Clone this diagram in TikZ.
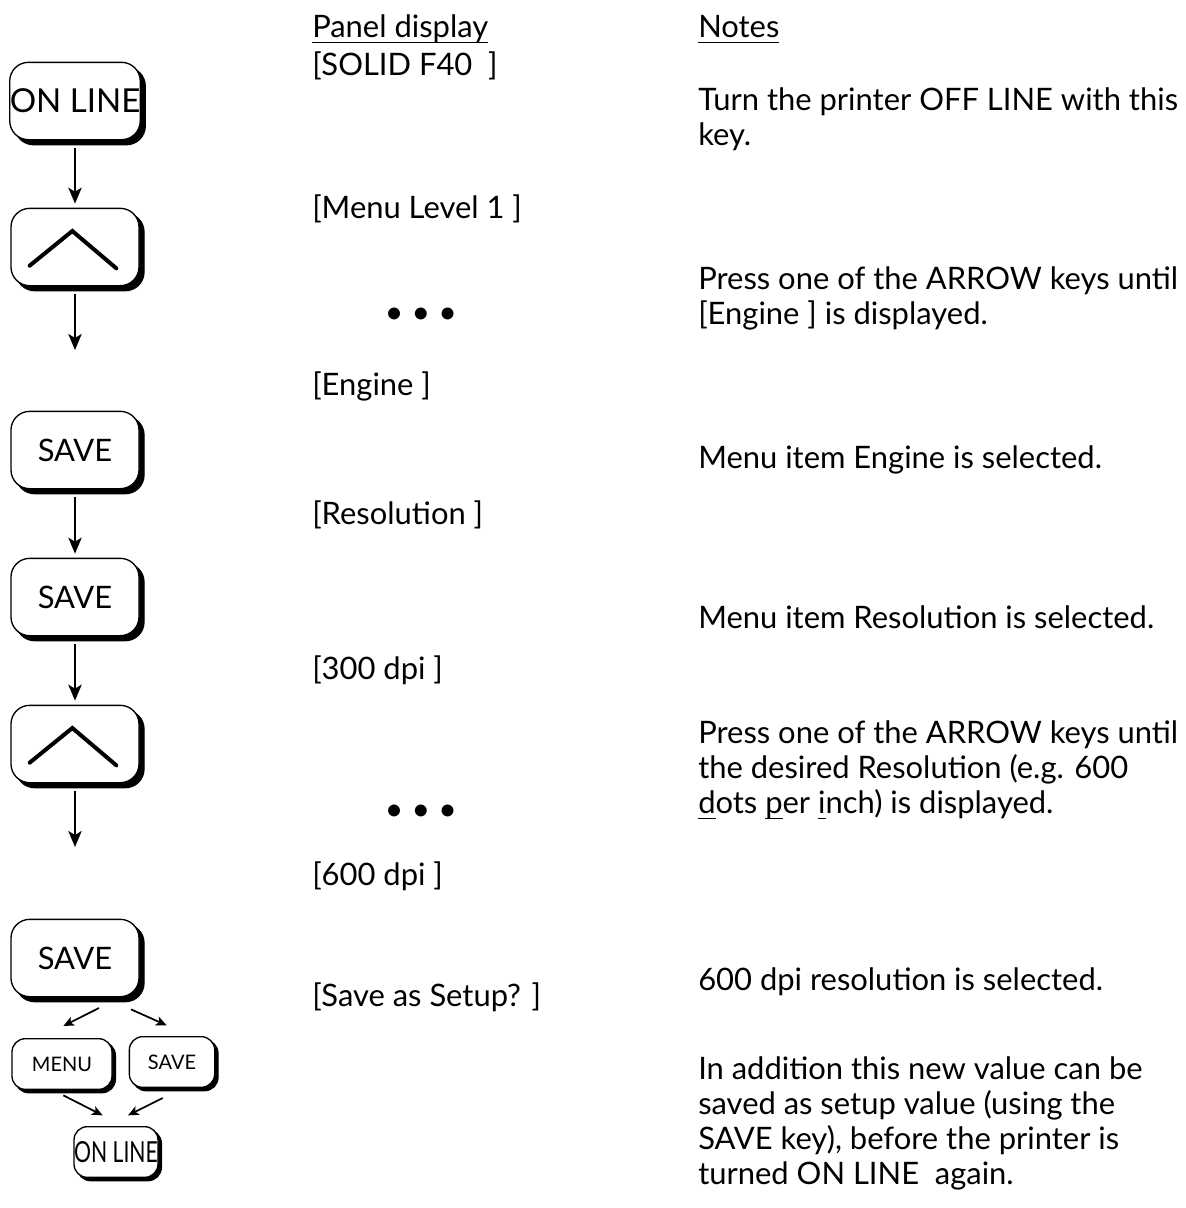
\documentclass[tikz,border=0pt]{standalone}
\usepackage{fontspec}
\usepackage{graphicx}
\setmainfont{Lato}
\usetikzlibrary{positioning, shadows, arrows.meta}

\newcommand{\ulin}[1]{\setbox1=\hbox{#1}\rlap{\rule[-4.5pt]{\wd1}{1.1pt}}\box1}

\begin{document}
\begin{tikzpicture}[
    x=0.75pt, y=-0.75pt,
    font=\fontsize{23.2}{26.25}\selectfont,
    >={Stealth[length=12pt, width=10pt, inset=3pt]},
    keybase/.style={draw=black, line width=1pt, fill=white, inner sep=0pt},
    key/.style={keybase, rounded corners=14pt, minimum width=96pt, minimum height=58pt,
      copy shadow={shadow xshift=3.75pt, shadow yshift=-3.75pt, fill=black, draw=black}},
    smallkey/.style={keybase, rounded corners=10pt, minimum height=38pt, font=\fontsize{15}{18}\selectfont,
      copy shadow={shadow xshift=2.5pt, shadow yshift=-2.5pt, fill=black, draw=black}},
    flow/.style={->, line width=1.6pt, shorten <=6pt, shorten >=3pt},
    tinyflow/.style={-{Stealth[length=8pt, width=7pt, inset=2pt]}, line width=1.3pt},
    chevron/.style={line width=3pt, line cap=round},
    entry/.style={anchor=base west, inner sep=0pt},
    note/.style={entry, align=left}
  ]
    \useasboundingbox (0,0) rectangle (1186,1208);

    % keys
    \node[key, font=\fontsize{24.75}{28}\selectfont] (online) at (75,101) {ON LINE};
    \node[key] (up1)   at (75,247) {};
    \node[key] (save1) at (75,450) {SAVE};
    \node[key] (save2) at (75,597) {SAVE};
    \node[key] (up2)   at (75,744) {};
    \node[key] (save3) at (75,958) {SAVE};
    \node[smallkey, minimum width=75pt] (menu)  at (62,1064) {MENU};
    \node[smallkey, minimum width=64pt] (save4) at (172,1062) {SAVE};
    \node[smallkey, minimum width=63pt, font=\fontsize{21.75}{24}\selectfont] (online2) at (116,1152) {\scalebox{0.73}[1]{ON LINE}};

    \foreach \k in {up1, up2}
      \draw[chevron] ([xshift=-34pt, yshift=-14pt]\k.center) -- ([xshift=-2pt, yshift=12pt]\k.center) -- ([xshift=31pt, yshift=-16pt]\k.center);

    \coordinate (end1) at (75,354);
    \coordinate (end2) at (75,851);
    \draw[flow] (online) -- (up1);
    \draw[flow] (up1) -- (end1);
    \draw[flow] (save1) -- (save2);
    \draw[flow] (save2) -- (up2);
    \draw[flow] (up2) -- (end2);
    \draw[tinyflow] ([xshift=18pt, yshift=-8pt]save3.south) -- ([xshift=1pt, yshift=9pt]menu.north);
    \draw[tinyflow] ([xshift=42pt, yshift=-9pt]save3.south) -- ([xshift=-4pt, yshift=8pt]save4.north);
    \draw[tinyflow] ([xshift=1pt, yshift=-4pt]menu.south) -- ([xshift=-10pt, yshift=8pt]online2.north);
    \draw[tinyflow] ([xshift=-7pt, yshift=-7.5pt]save4.south) -- ([xshift=9pt, yshift=8pt]online2.north);

    % ==========================================
    \node[entry] (hpanel) at (312,37) {\ulin{Panel display}};
    \node[entry] (p1) at (312,75)   {[SOLID F40\ \ ]};
    \node[entry] (p2) at (312,218)  {[Menu Level 1 ]};
    \node (dots1) at (421,316) {\fontsize{24}{24}\selectfont • • •};
    \node[entry] (p3) at (312,395)  {[Engine ]};
    \node[entry] (p4) at (312,524)  {[Resolution ]};
    \node[entry] (p5) at (312,679)  {[300 dpi ]};
    \node (dots2) at (421,813) {\fontsize{24}{24}\selectfont • • •};
    \node[entry] (p6) at (312,885)  {[600 dpi ]};
    \node[entry] (p7) at (312,1006) {[Save as Setup? ]};

    % ==========================================
    \node[entry] (hnotes) at (698,37) {\ulin{Notes}};
    \node[note] (n1) at (698,145)  {Turn the printer OFF LINE with this\\key.};
    \node[note] (n2) at (698,324)  {Press one of the ARROW keys until\\{[Engine ]} is displayed.};
    \node[entry] (n3) at (698,468) {Menu item Engine is selected.};
    \node[entry] (n4) at (698,628) {Menu item Resolution is selected.};
    \node[note] (n5) at (698,813)  {Press one of the ARROW keys until\\the desired Resolution (e.g. 600\\\ulin{d}ots \ulin{p}er \ulin{i}nch) is displayed.};
    \node[entry] (n6) at (698,990) {600 dpi resolution is selected.};
    \node[note] (n7) at (698,1184) {In addition this new value can be\\saved as setup value (using the\\SAVE key), before the printer is\\turned ON LINE\ \ again.};
\end{tikzpicture}
\end{document}
